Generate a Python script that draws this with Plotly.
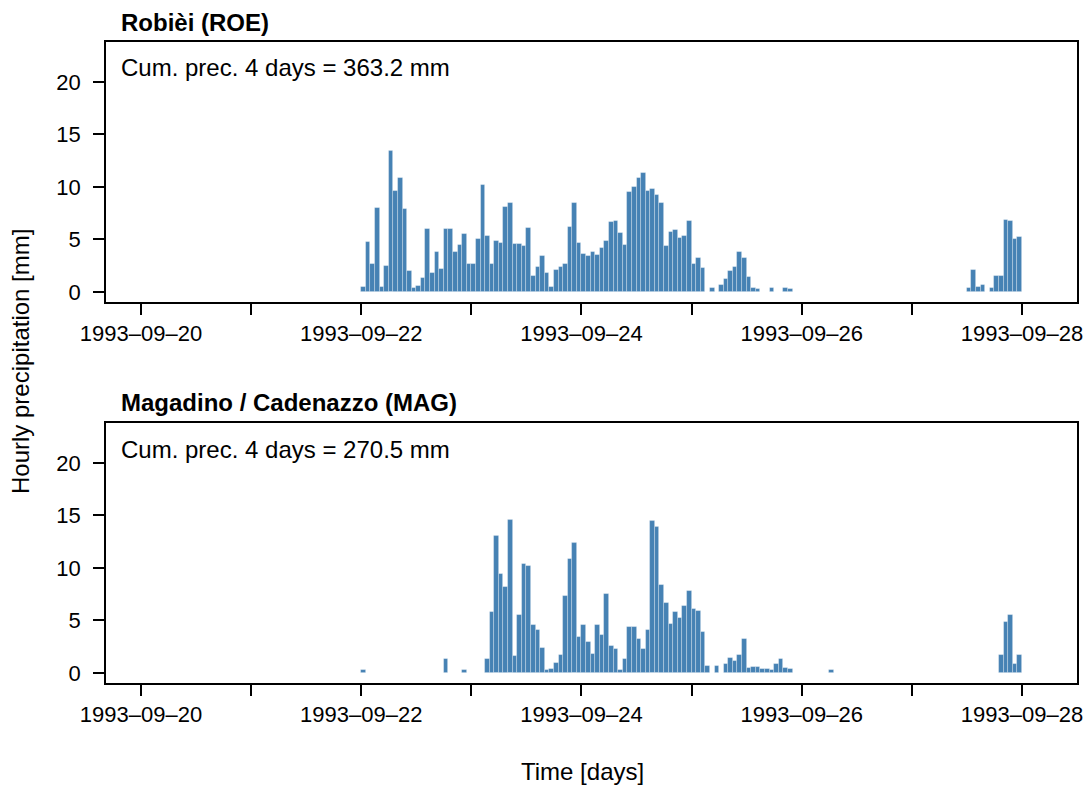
import pandas as pd
import plotly.graph_objects as go

# Hourly precipitation [mm], hours 00..23 of each day (None = no rain)
roe_0922 = [0.5, 4.8, 2.7, 8.0, 0.5, 2.5, 13.4, 9.6, 10.9, 7.9, 2.0, 0.4,
            0.6, 1.3, 6.0, 1.8, 3.8, 2.2, 6.0, 6.0, 3.8, 4.5, 5.5, 2.7]
roe_0923 = [2.7, 5.0, 10.2, 5.3, 2.7, 4.9, 4.7, 8.1, 8.5, 4.6, 4.6, 4.4,
            6.1, 1.5, 2.4, 3.4, 1.8, 0.5, 2.1, 2.4, 2.7, 6.2, 8.5, 4.7]
roe_0924 = [3.6, 3.4, 3.8, 3.5, 4.2, 4.9, 6.7, 6.8, 5.6, 4.5, 9.5, 10.0,
            10.9, 11.3, 9.6, 9.8, 9.2, 8.5, 4.4, 5.7, 5.9, 5.1, 5.3, 6.8]
roe_0925 = [2.7, 3.2, 2.3, None, 0.4, None, 0.7, 1.2, 2.0, 2.4, 3.8, 3.2,
            1.4, 0.4, 0.3, None, None, 0.4, None, None, 0.4, 0.3, None, None]
roe_0926 = [None] * 24
roe_0927 = [None, None, None, None, None, None, None, None, None, None, None, None,
            0.4, 2.1, 0.5, 0.7, None, 0.4, 1.5, 1.5, 6.9, 6.8, 5.0, 5.2]

mag_0922 = [0.3, None, None, None, None, None, None, None, None, None, None, None,
            None, None, None, None, None, None, 1.3, None, None, None, 0.3, None]
mag_0923 = [None, None, None, 1.3, 5.8, 13.0, 9.4, 8.2, 14.6, 1.6, 5.5, 10.4,
            10.2, 4.6, 4.1, 2.4, 0.3, 0.4, 1.0, 1.7, 7.3, 10.9, 12.4, 3.4]
mag_0924 = [4.6, 3.0, 1.8, 4.6, 3.6, 7.5, 2.6, 2.3, 0.3, 1.3, 4.4, 4.4,
            3.2, 2.3, 4.1, 14.5, 13.9, 8.4, 6.7, 4.7, 5.8, 5.2, 6.4, 7.8]
mag_0925 = [6.1, 5.9, 3.9, 0.7, None, 0.7, None, 0.9, 1.4, 1.1, 1.7, 3.2,
            0.5, 0.6, 0.6, 0.4, 0.4, 0.3, 0.9, 1.3, 0.5, 0.4, None, None]
mag_0926 = [None, None, None, None, None, None, 0.3, None, None, None, None, None,
            None, None, None, None, None, None, None, None, None, None, None, None]
mag_0927 = [None, None, None, None, None, None, None, None, None, None, None, None,
            None, None, None, None, None, None, None, 1.7, 4.9, 5.5, 0.9, 1.7]

roe_vals = roe_0922 + roe_0923 + roe_0924 + roe_0925 + roe_0926 + roe_0927
mag_vals = mag_0922 + mag_0923 + mag_0924 + mag_0925 + mag_0926 + mag_0927
hours = pd.date_range("1993-09-22 00:30", periods=len(roe_vals), freq="h")

titles = ["Robièi (ROE)", "Magadino / Cadenazzo (MAG)"]
cum_labels = ["Cum. prec. 4 days = 363.2 mm", "Cum. prec. 4 days = 270.5 mm"]
tick_days = pd.date_range("1993-09-20", "1993-09-28", freq="D")
tick_text = [d.strftime("%Y–%m–%d") if i % 2 == 0 else "" for i, d in enumerate(tick_days)]
y_ticks = [0, 5, 10, 15, 20]

# page body has an 8px margin: figure is 8px smaller and all pixel positions shifted by -8
OFF = 8
W, H = 1091 - OFF, 785 - OFF
FONT = "Liberation Sans, Arial, Helvetica, sans-serif"
BAR = "#4682B4"

def px(x):
    return (x - OFF) / W

def py(y):
    return 1 - (y - OFF) / H

fig = go.Figure()
bar_marker = dict(color=BAR, line=dict(color="rgba(255,255,255,0.35)", width=0.8))
fig.add_trace(go.Bar(x=hours, y=roe_vals, width=3600000, marker=bar_marker,
                     xaxis="x", yaxis="y", showlegend=False))
fig.add_trace(go.Bar(x=hours, y=mag_vals, width=3600000, marker=bar_marker,
                     xaxis="x2", yaxis="y2", showlegend=False))

left, right = 106, 1077
panels = [(42, 302), (423, 683)]

xaxis_common = dict(
    type="date", range=["1993-09-19 16:22", "1993-09-28 12:00"],
    domain=[px(left), px(right)], automargin=False,
    tickvals=list(tick_days), ticktext=tick_text,
    ticks="outside", ticklen=11, tickwidth=1.5, tickcolor="black",
    showline=True, linecolor="black", linewidth=1.5, mirror=True,
    showgrid=False, zeroline=False,
    tickfont=dict(family=FONT, size=22, color="black"),
    ticklabelstandoff=0,
)
yaxis_common = dict(
    range=[-0.95, 23.8], tickvals=y_ticks, automargin=False,
    ticks="outside", ticklen=11, tickwidth=1.5, tickcolor="black",
    showline=True, linecolor="black", linewidth=1.5, mirror=True,
    showgrid=False, zeroline=False,
    tickfont=dict(family=FONT, size=22, color="black"),
    ticklabelstandoff=8,
)

fig.update_layout(
    width=W, height=H,
    margin=dict(l=0, r=0, t=0, b=0, autoexpand=False),
    paper_bgcolor="white", plot_bgcolor="white",
    bargap=0,
    xaxis=dict(xaxis_common, anchor="y"),
    yaxis=dict(yaxis_common, domain=[py(panels[0][1]), py(panels[0][0])], anchor="x"),
    xaxis2=dict(xaxis_common, anchor="y2"),
    yaxis2=dict(yaxis_common, domain=[py(panels[1][1]), py(panels[1][0])], anchor="x2"),
)

ann = []
for i, (t, b) in enumerate(panels):
    ann.append(dict(text="<b>" + titles[i] + "</b>", x=px(119), y=py(t - 20),
                    xref="paper", yref="paper", xanchor="left", yanchor="middle",
                    showarrow=False, font=dict(family=FONT, size=24, color="black")))
    ann.append(dict(text=cum_labels[i], x=px(119), y=py(t + 26),
                    xref="paper", yref="paper", xanchor="left", yanchor="middle",
                    showarrow=False, font=dict(family=FONT, size=24, color="black")))
ann.append(dict(text="Hourly precipitation [mm]", x=px(20), y=py(362), textangle=-90,
                xref="paper", yref="paper", xanchor="center", yanchor="middle",
                showarrow=False, font=dict(family=FONT, size=24, color="black")))
ann.append(dict(text="Time [days]", x=px(582), y=py(771),
                xref="paper", yref="paper", xanchor="center", yanchor="middle",
                showarrow=False, font=dict(family=FONT, size=24, color="black")))
fig.update_layout(annotations=ann)

fig.write_html("out.html")
